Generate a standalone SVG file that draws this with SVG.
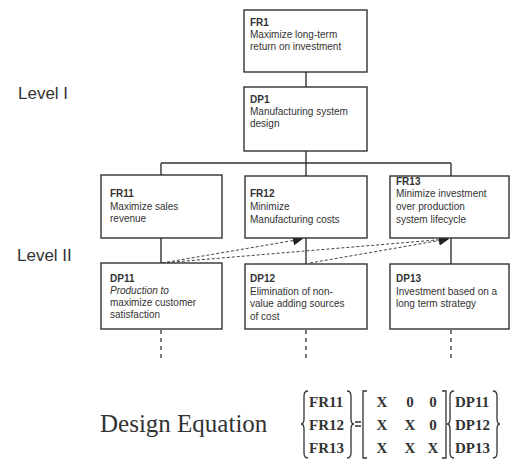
<svg xmlns="http://www.w3.org/2000/svg" width="513" height="459" viewBox="0 0 513 459">
<defs>
<style>
.box{fill:#fff;stroke:#333;stroke-width:1.4}
.t{font-family:"Liberation Sans",Arial,sans-serif;font-size:10px;fill:#333}
.h{font-weight:bold}
.lvl{font-family:"Liberation Sans",Arial,sans-serif;font-size:17px;fill:#333}
.ln{stroke:#333;stroke-width:1.4;fill:none}
.dot{stroke:#444;stroke-width:1.4;fill:none;stroke-dasharray:4 4}
.dash{stroke:#444;stroke-width:1;fill:none;stroke-dasharray:3 2}
.eq{font-family:"Liberation Serif","Times New Roman",serif;fill:#333}
.m{font-family:"Liberation Serif","Times New Roman",serif;font-size:15px;font-weight:bold;fill:#333}
.br{stroke:#333;stroke-width:1.3;fill:none}
</style>
<marker id="ah" viewBox="0 0 10 10" refX="9" refY="5" markerWidth="10" markerHeight="10" orient="auto" markerUnits="userSpaceOnUse">
<path d="M0,0 L10,5 L0,10 z" fill="#222"/>
</marker>
</defs>
<rect width="513" height="459" fill="#fff"/>

<text class="lvl" x="18" y="99">Level I</text>
<text class="lvl" x="17" y="261">Level II</text>

<g id="connectors">
<line class="ln" x1="306" y1="72" x2="306" y2="87"/>
<line class="ln" x1="306" y1="151" x2="306" y2="163"/>
<line class="ln" x1="161" y1="163" x2="451" y2="163"/>
<line class="ln" x1="161" y1="163" x2="161" y2="175"/>
<line class="ln" x1="306" y1="163" x2="306" y2="176"/>
<line class="ln" x1="451" y1="163" x2="451" y2="176"/>
<line class="ln" x1="161" y1="238" x2="161" y2="263"/>
<line class="ln" x1="306" y1="238" x2="306" y2="264"/>
<line class="ln" x1="451" y1="238" x2="451" y2="264"/>
<line class="dot" x1="161" y1="330" x2="161" y2="361"/>
<line class="dot" x1="306" y1="330" x2="306" y2="361"/>
<line class="dot" x1="451" y1="330" x2="451" y2="361"/>
<line class="dash" x1="162" y1="263" x2="302" y2="239" marker-end="url(#ah)"/>
<line class="dash" x1="162" y1="263" x2="448" y2="239" marker-end="url(#ah)"/>
<line class="dash" x1="310" y1="263" x2="448" y2="239" marker-end="url(#ah)"/>
</g>

<g id="FR1">
<rect class="box" x="244" y="10" width="123" height="62"/>
<text class="t h" x="250" y="26">FR1</text>
<text class="t" x="250" y="38">Maximize long-term</text>
<text class="t" x="250" y="50">return on investment</text>
</g>
<g id="DP1">
<rect class="box" x="244" y="87" width="123" height="64"/>
<text class="t h" x="250" y="103">DP1</text>
<text class="t" x="250" y="115">Manufacturing system</text>
<text class="t" x="250" y="127">design</text>
</g>
<g id="FR11">
<rect class="box" x="101" y="175" width="121" height="63"/>
<text class="t h" x="110" y="197">FR11</text>
<text class="t" x="110" y="210">Maximize sales</text>
<text class="t" x="110" y="222">revenue</text>
</g>
<g id="FR12">
<rect class="box" x="245" y="176" width="122" height="62"/>
<text class="t h" x="250" y="197">FR12</text>
<text class="t" x="250" y="210">Minimize</text>
<text class="t" x="250" y="223">Manufacturing costs</text>
</g>
<g id="FR13">
<rect class="box" x="390" y="176" width="119" height="62"/>
<text class="t h" x="396" y="185">FR13</text>
<text class="t" x="396" y="197">Minimize investment</text>
<text class="t" x="396" y="210">over production</text>
<text class="t" x="396" y="223">system lifecycle</text>
</g>
<g id="DP11">
<rect class="box" x="101" y="263" width="121" height="66"/>
<text class="t h" x="110" y="282">DP11</text>
<text class="t" x="110" y="294" font-style="italic">Production to</text>
<text class="t" x="110" y="306">maximize customer</text>
<text class="t" x="110" y="318">satisfaction</text>
</g>
<g id="DP12">
<rect class="box" x="245" y="264" width="122" height="65"/>
<text class="t h" x="250" y="282">DP12</text>
<text class="t" x="250" y="295">Elimination of non-</text>
<text class="t" x="250" y="307">value adding  sources</text>
<text class="t" x="250" y="320">of cost</text>
</g>
<g id="DP13">
<rect class="box" x="390" y="264" width="119" height="65"/>
<text class="t h" x="396" y="282">DP13</text>
<text class="t" x="396" y="295">Investment based on a</text>
<text class="t" x="396" y="307">long term strategy</text>
</g>

<g id="equation">
<text class="eq" x="100" y="432" font-size="25">Design Equation</text>
<path class="br" d="M308,391 Q304,391 304,396 L304,419 Q304,424 301,424 Q304,424 304,429 L304,453 Q304,458 308,458"/>
<text class="m" x="309" y="407">FR11</text>
<text class="m" x="309" y="430">FR12</text>
<text class="m" x="309" y="453">FR13</text>
<path class="br" d="M347,391 Q351,391 351,396 L351,419 Q351,424 354,424 Q351,424 351,429 L351,453 Q351,458 347,458"/>
<path class="br" d="M355,422 L361,422 M355,426 L361,426"/>
<path class="br" d="M367,391 L363,391 L363,458 L367,458"/>
<text class="m" x="382" y="407" text-anchor="middle">X</text>
<text class="m" x="410" y="407" text-anchor="middle">0</text>
<text class="m" x="433" y="407" text-anchor="middle">0</text>
<text class="m" x="382" y="430" text-anchor="middle">X</text>
<text class="m" x="410" y="430" text-anchor="middle">X</text>
<text class="m" x="433" y="430" text-anchor="middle">0</text>
<text class="m" x="382" y="453" text-anchor="middle">X</text>
<text class="m" x="410" y="453" text-anchor="middle">X</text>
<text class="m" x="433" y="453" text-anchor="middle">X</text>
<path class="br" d="M442,391 L446,391 L446,458 L442,458"/>
<path class="br" d="M454,391 Q450,391 450,396 L450,419 Q450,424 447,424 Q450,424 450,429 L450,453 Q450,458 454,458"/>
<text class="m" x="455" y="407">DP11</text>
<text class="m" x="455" y="430">DP12</text>
<text class="m" x="455" y="453">DP13</text>
<path class="br" d="M493,391 Q497,391 497,396 L497,419 Q497,424 500,424 Q497,424 497,429 L497,453 Q497,458 493,458"/>
</g>
</svg>
